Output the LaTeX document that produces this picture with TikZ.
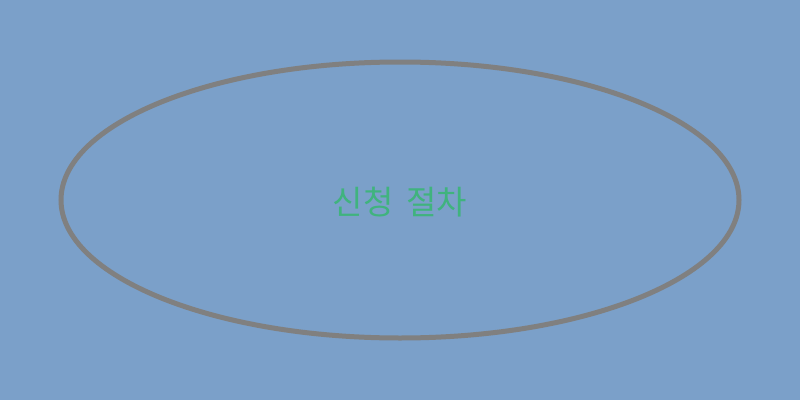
\documentclass[tikz,border=0pt]{standalone}
\usepackage{fontspec}
\newfontfamily\cjk{Noto Sans CJK KR}
\definecolor{bgblue}{HTML}{7BA0C9}
\definecolor{ringgray}{HTML}{808080}
\definecolor{txtgreen}{HTML}{40B37E}
\tikzset{ring/.style={draw=ringgray,line width=5pt,ellipse,minimum width=678pt,minimum height=276pt,inner sep=0pt},
lbl/.style={text=txtgreen,font=\cjk\fontsize{33}{40}\selectfont}}
\usetikzlibrary{shapes.geometric}
\begin{document}
\begin{tikzpicture}[x=1pt,y=1pt]
\fill[bgblue] (0,0) rectangle (800,400);
\useasboundingbox (0,0) rectangle (800,400);
\node[ring] (e) at (400,200) {};
\node[lbl] (t) at (400,198) {신청\hspace{0.4em}절차};
\end{tikzpicture}
\end{document}
